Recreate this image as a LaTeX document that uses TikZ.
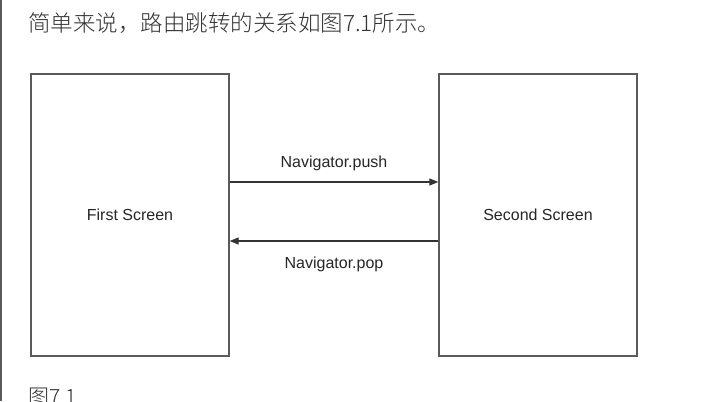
\documentclass[tikz,border=0pt]{standalone}
\usepackage{fontspec}
\usetikzlibrary{arrows.meta,positioning}
\newfontfamily\cjkfont{Noto Sans CJK SC Light}
\newfontfamily\labelfont{Liberation Sans}
\definecolor{edgegray}{HTML}{5A5A5A}
\definecolor{textgray}{HTML}{333333}
\begin{document}
\begin{tikzpicture}[x=1pt,y=-1pt,
                screen/.style={draw=edgegray,line width=1.3pt,minimum width=198pt,minimum height=282pt,inner sep=0pt,font=\labelfont\fontsize{16}{19}\selectfont,text=black!85},
                link/.style={draw=textgray,line width=1.1pt,-{Triangle[length=9pt,width=7pt]}},
                caption/.style={inner sep=0pt,font=\labelfont\fontsize{16}{19}\selectfont,text=black!85},
                prose/.style={anchor=base west,inner sep=0pt,text=textgray}]
                \useasboundingbox (0,0) rectangle (727,401);
                \clip (0,0) rectangle (727,401);
                \fill [white] (0,0) rectangle (727,401);
                \draw [edgegray,line width=1.6pt] (1,0) -- (1,401);
                \node[prose,font=\cjkfont\fontsize{22.5}{26}\selectfont] (intro) at (28,32) {简单来说，路由跳转的关系如图7.1所示。};
                \node[screen] (first) at (130,215) {First Screen};
                \node[screen] (second) at (538,215) {Second Screen};
                \draw [link] ([yshift=33pt]first.east) -- ([yshift=33pt]second.west) node[caption,midway,above=11pt] (pushlabel) {Navigator.push};
                \draw [link] ([yshift=-26pt]second.west) -- ([yshift=-26pt]first.east) node[caption,midway,below=15pt] (poplabel) {Navigator.pop};
                \node[prose,font=\cjkfont\fontsize{21}{24}\selectfont] (figlabel) at (28,404) {图7.1};
\end{tikzpicture}
\end{document}
